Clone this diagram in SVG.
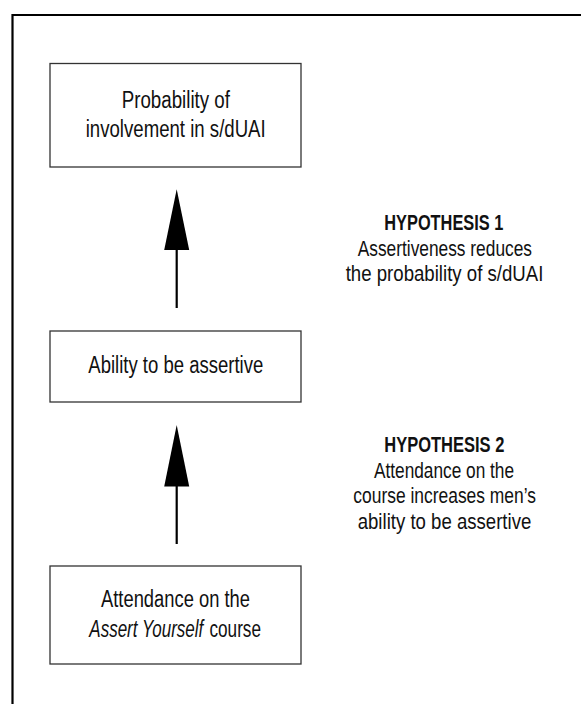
<svg xmlns="http://www.w3.org/2000/svg" width="581" height="704" viewBox="0 0 581 704">
<style>
.frame{fill:none;stroke:#000;stroke-width:2.2}
.box{fill:#fff;stroke:#333;stroke-width:1.3}
.t{font-family:"Liberation Sans",Arial,sans-serif;font-size:23px;fill:#111}
.h{font-family:"Liberation Sans",Arial,sans-serif;font-size:22px;fill:#111}
.b{font-weight:bold}
.shaft{stroke:#000;stroke-width:2.2;fill:none}
.head{fill:#000}
</style>
<rect width="581" height="704" fill="#fff"/>
<path class="frame" d="M12.5,704 V15 H581"/>
<g id="node-probability">
<rect class="box" x="50" y="63.5" width="251" height="103.5"/>
<text class="t" x="121.7" y="107.5" textLength="108.3" lengthAdjust="spacingAndGlyphs">Probability of</text>
<text class="t" x="85.7" y="136.7" textLength="180" lengthAdjust="spacingAndGlyphs">involvement in s/dUAI</text>
</g>
<g id="node-ability">
<rect class="box" x="50" y="331" width="251" height="71"/>
<text class="t" x="88.3" y="373" textLength="175" lengthAdjust="spacingAndGlyphs">Ability to be assertive</text>
</g>
<g id="node-attendance">
<rect class="box" x="50" y="566" width="251" height="98"/>
<text class="t" x="101" y="606.7" textLength="149" lengthAdjust="spacingAndGlyphs">Attendance on the</text>
<text class="t" x="89.3" y="636.7" textLength="114" lengthAdjust="spacingAndGlyphs" font-style="italic">Assert Yourself</text>
<text class="t" x="209.5" y="636.7" textLength="51.5" lengthAdjust="spacingAndGlyphs">course</text>
</g>
<g id="connectors">
<line class="shaft" x1="176.7" y1="308" x2="176.7" y2="248"/>
<polygon class="head" points="176.7,189.3 189.2,250 164.2,250"/>
<line class="shaft" x1="176.7" y1="544" x2="176.7" y2="484"/>
<polygon class="head" points="176.7,425 189.2,486.5 164.2,486.5"/>
</g>
<g id="label-h1">
<text class="h b" x="384.3" y="229.5" textLength="119" lengthAdjust="spacingAndGlyphs">HYPOTHESIS 1</text>
<text class="h" x="357.7" y="255.5" textLength="174.3" lengthAdjust="spacingAndGlyphs">Assertiveness reduces</text>
<text class="h" x="345.7" y="280.5" textLength="197.7" lengthAdjust="spacingAndGlyphs">the probability of s/dUAI</text>
</g>
<g id="label-h2">
<text class="h b" x="384.3" y="451.7" textLength="120" lengthAdjust="spacingAndGlyphs">HYPOTHESIS 2</text>
<text class="h" x="374" y="477.5" textLength="140" lengthAdjust="spacingAndGlyphs">Attendance on the</text>
<text class="h" x="353.3" y="502.7" textLength="182.7" lengthAdjust="spacingAndGlyphs">course increases men’s</text>
<text class="h" x="357.7" y="528.5" textLength="173.6" lengthAdjust="spacingAndGlyphs">ability to be assertive</text>
</g>
</svg>
